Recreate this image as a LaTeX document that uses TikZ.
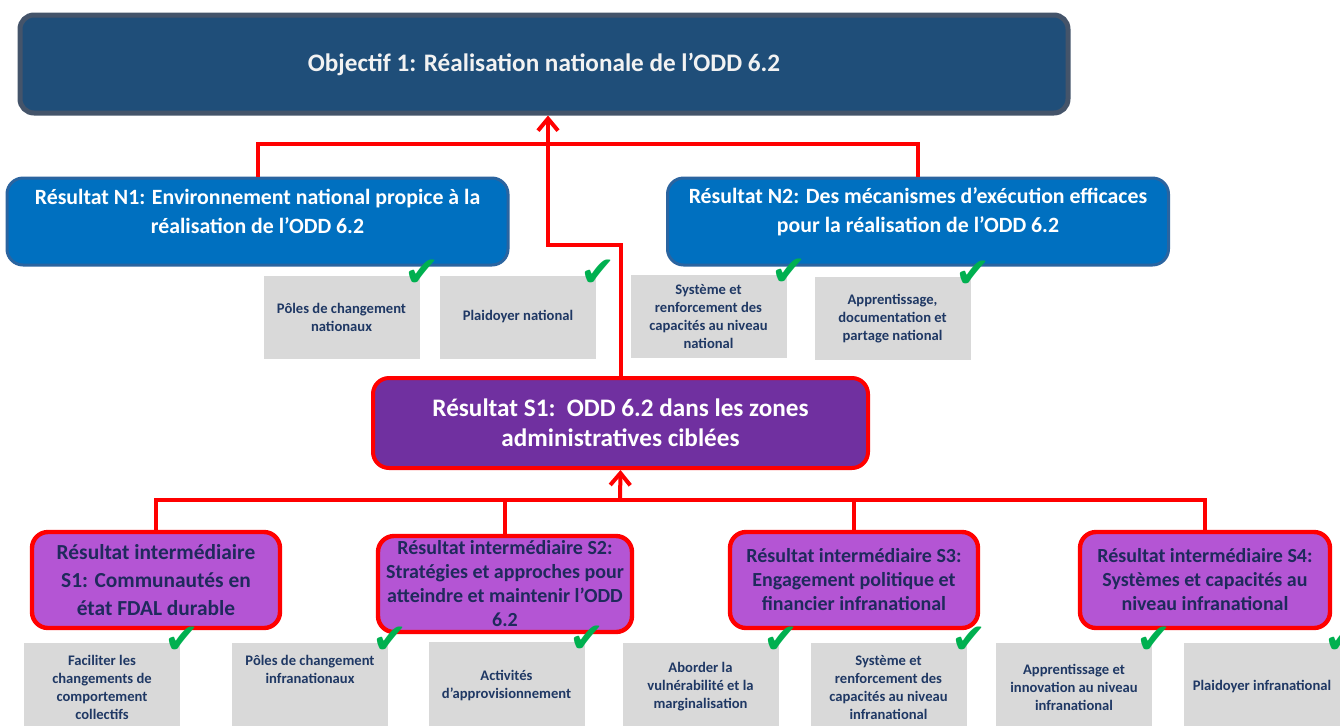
\documentclass[tikz,border=0pt]{standalone}
\usepackage{fontspec}
\setmainfont{Carlito}
\newfontfamily\symfont{DejaVu Sans}
\usetikzlibrary{arrows.meta, positioning, calc}

\definecolor{topfill}{HTML}{1F4E79}
\definecolor{topline}{HTML}{44546A}
\definecolor{toptext}{HTML}{F2F2F2}
\definecolor{nfill}{HTML}{0070C0}
\definecolor{nline}{HTML}{2A64A0}
\definecolor{sfill}{HTML}{7030A0}
\definecolor{linkred}{HTML}{FF0000}
\definecolor{ifill}{HTML}{B455D4}
\definecolor{itext}{HTML}{1F2A5C}
\definecolor{gfill}{HTML}{D9D9D9}
\definecolor{gtext}{HTML}{1F3864}
\definecolor{chkgreen}{HTML}{00B050}

\begin{document}
\begin{tikzpicture}[
    x=0.5pt, y=-0.5pt,
    topbox/.style={rectangle, rounded corners=7pt, minimum width=524pt, minimum height=49pt, draw=topline, line width=2.5pt, fill=topfill, text=toptext, font=\bfseries\fontsize{12.6pt}{15pt}\selectfont, align=center},
    nbox/.style={rectangle, rounded corners=8pt, minimum width=250.5pt, minimum height=43.5pt, draw=nline, line width=1.5pt, fill=nfill},
    ntext/.style={text=white, font=\bfseries\fontsize{10.9pt}{14.5pt}\selectfont, align=center, inner sep=0pt},
    sbox/.style={rectangle, rounded corners=8pt, minimum width=247.5pt, minimum height=45pt, draw=linkred, line width=2pt, fill=sfill, text=white, font=\bfseries\fontsize{12.6pt}{15pt}\selectfont, align=center},
    ibox/.style={rectangle, rounded corners=8pt, minimum width=124pt, minimum height=48pt, draw=linkred, line width=2.2pt, fill=ifill, text=itext, font=\bfseries\fontsize{10pt}{12pt}\selectfont, align=center, inner sep=1pt},
    gbox/.style={rectangle, minimum width=78pt, minimum height=41.5pt, fill=gfill, text=gtext, font=\bfseries\fontsize{7.3pt}{9pt}\selectfont, align=center, inner sep=1pt},
    chk/.style={text=chkgreen, font=\symfont\fontsize{21pt}{21pt}\selectfont, inner sep=0pt},
    link/.style={draw=linkred, line width=2pt},
    linkarrow/.style={link, -{Straight Barb[length=6pt, width=10pt, line width=2pt]}}
]
\clip (0,0) rectangle (1340,725);

% objective
\node[topbox] (top) at (544,64) {Objectif 1: Réalisation nationale de l’ODD 6.2};

% national results
\node[nbox] (n1) at (257.5,221.5) {};
\node[ntext] (n1t) at ($(n1.center)+(0,-10)$) {Résultat N1: Environnement national propice à la\\réalisation de l’ODD 6.2};
\node[nbox] (n2) at (918,221.5) {};
\node[ntext] (n2t) at ($(n2.center)+(0,-10)$) {Résultat N2: Des mécanismes d’exécution efficaces\\pour la réalisation de l’ODD 6.2};

\node[gbox] (g1) at (341.5,317.5) {Pôles de changement\\nationaux};
\node[gbox] (g2) at (518,317) {Plaidoyer national};
\node[gbox] (g3) at (708.5,316.5) {Système et\\renforcement des\\capacités au niveau\\national};
\node[gbox] (g4) at (892.5,318.5) {Apprentissage,\\documentation et\\partage national};

% sub-national result
\node[sbox] (s1) at (620.5,423) {Résultat S1:\ \ ODD 6.2 dans les zones\\administratives ciblées};

% intermediate results
\node[ibox, font=\bfseries\fontsize{10.7pt}{14pt}\selectfont] (i1) at (156,580) {Résultat intermédiaire\\S1: Communautés en\\état FDAL durable};
\node[ibox, minimum width=127pt] (i2) at (505,584) {Résultat intermédiaire S2:\\Stratégies et approches pour\\atteindre et maintenir l’ODD\\6.2};
\node[ibox] (i3) at (854,580) {Résultat intermédiaire S3:\\Engagement politique et\\financier infranational};
\node[ibox, minimum width=125pt] (i4) at (1205,580) {Résultat intermédiaire S4:\\Systèmes et capacités au\\niveau infranational};

\node[gbox, minimum height=44pt] (b1) at (102,687) {Faciliter les\\changements de\\comportement\\collectifs};
\node[gbox, minimum height=44pt] (b2) at (310,687) {Pôles de changement\\infranationaux\\[9pt]};
\node[gbox, minimum height=44pt] (b3) at (506.5,686) {Activités\\d’approvisionnement};
\node[gbox, minimum height=44pt] (b4) at (700.5,687) {Aborder la\\vulnérabilité et la\\marginalisation};
\node[gbox, minimum height=44pt] (b5) at (888.5,687) {Système et\\renforcement des\\capacités au niveau\\infranational};
\node[gbox, minimum height=44pt] (b6) at (1074,687) {Apprentissage et\\innovation au niveau\\infranational};
\node[gbox, minimum height=44pt] (b7) at (1262,687) {Plaidoyer infranational};

% ticks
\foreach \g in {g1,g2,g3,g4,b1,b2,b3,b4,b5,b6,b7}
    \node[chk] (chk-\g) at ($(\g.north east)+(2,-2)$) {✔};

% connectors
\draw[link] (n1.north) -- ++(0,-33) -| (n2.north);
\coordinate (bend) at (548,245);
\draw[linkarrow] (s1.north) |- (bend) -- (bend |- top.south);
\coordinate (bus) at (620,500);
\draw[link] (i1.north) -- (i1.north |- bus) -- (i4.north |- bus) -- (i4.north);
\foreach \i in {i2,i3}
    \draw[link] (\i.north) -- (\i.north |- bus);
\draw[linkarrow] (bus) -- (s1.south);
\end{tikzpicture}
\end{document}
